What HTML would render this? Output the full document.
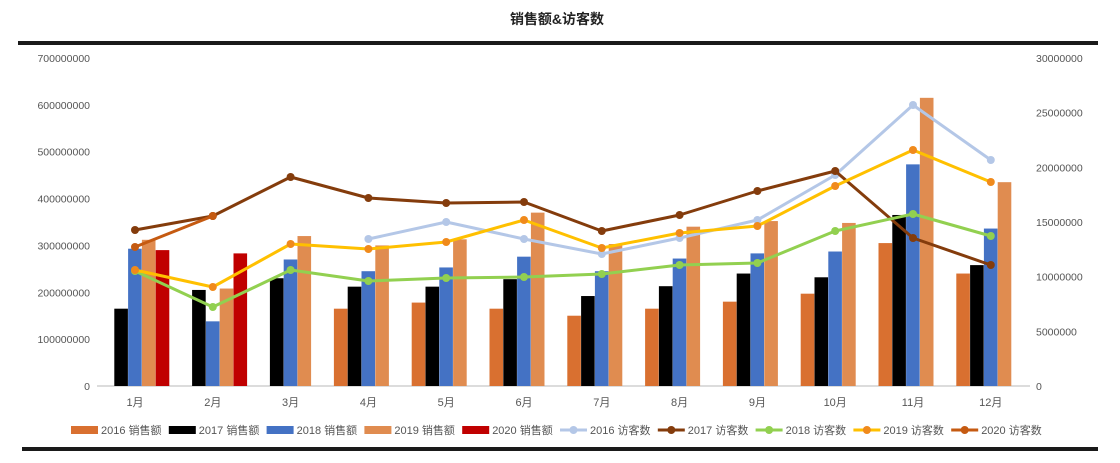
<!DOCTYPE html>
<html><head><meta charset="utf-8">
<style>
html,body{margin:0;padding:0;background:#fff;}
svg{display:block;font-family:"Liberation Sans","Noto Sans CJK SC",sans-serif;}
</style></head>
<body>
<svg id="c" width="1120" height="463" viewBox="0 0 1120 463" xmlns="http://www.w3.org/2000/svg">
<rect width="1120" height="463" fill="#fff"/>
<text x="557" y="24" text-anchor="middle" font-size="14" font-weight="bold" fill="#222">销售额&amp;访客数</text>
<rect x="18" y="41" width="1080" height="4" fill="#1a1a1a"/>
<rect x="22" y="447" width="1076" height="4" fill="#1a1a1a"/>
<line x1="97" y1="386" x2="1030" y2="386" stroke="#d0d0d0" stroke-width="1.5"/>
<g id="g"></g>
</svg>
<script>
(function(){
var NS="http://www.w3.org/2000/svg",g=document.getElementById("g");
function el(t,a,txt){var e=document.createElementNS(NS,t);for(var k in a)e.setAttribute(k,a[k]);if(txt!=null)e.textContent=txt;g.appendChild(e);return e;}
var B=386,T=58;
for(var i=0;i<=7;i++){var y=B-i*(B-T)/7;el("text",{x:90,y:y+4,"text-anchor":"end","font-size":"10.5",fill:"#555"},i==0?"0":(i*100000000)+"");}
for(var i=0;i<=6;i++){var y=B-i*(B-T)/6;el("text",{x:1036,y:y+4,"font-size":"10.5",fill:"#555"},i==0?"0":(i*5000000)+"");}
var sx=function(i){return 135+77.8*i;};
var bars=[
 ["#D97030",[null,null,null,165,178,165,150,165,180,197,305,240]],
 ["#000000",[165,205,230,212,212,228,192,213,240,232,365,258]],
 ["#4472C4",[293,138,270,245,253,276,245,272,283,287,473,336]],
 ["#E08C50",[312,208,320,300,313,370,303,340,352,348,615,435]],
 ["#C00000",[290,283,null,null,null,null,null,null,null,null,null,null]]];
var ls=(B-T)/700;
bars.forEach(function(b,k){b[1].forEach(function(v,i){if(v==null)return;var h=v*ls;el("rect",{x:sx(i)-34.5+13.8*k,y:B-h,width:13.6,height:h,fill:b[0]});});});
for(var i=0;i<12;i++)el("text",{x:sx(i),y:406,"text-anchor":"middle","font-size":"11",fill:"#555"},(i+1)+"月");
var lines=[
 ["#B4C7E7","#B4C7E7",[null,null,null,239,222,239,254,238,220,175,105,160]],
 ["#843C0C","#843C0C",[230,216,177,198,203,202,231,215,191,171,238,265]],
 ["#92D050","#92D050",[271,307,270,281,278,277,274,265,263,231,214,236]],
 ["#FFC000","#F08A1C",[270,287,244,249,242,220,248,233,226,186,150,182]],
 ["#C55A11","#C55A11",[247,216,null,null,null,null,null,null,null,null,null,null]]];
lines.forEach(function(l){var pts=[];l[2].forEach(function(v,i){if(v!=null)pts.push(sx(i)+","+v);});
 el("polyline",{points:pts.join(" "),fill:"none",stroke:l[0],"stroke-width":3,"stroke-linejoin":"round"});
 l[2].forEach(function(v,i){if(v!=null)el("circle",{cx:sx(i),cy:v,r:4,fill:l[1]});});});
var names=["2016 销售额","2017 销售额","2018 销售额","2019 销售额","2020 销售额","2016 访客数","2017 访客数","2018 访客数","2019 访客数","2020 访客数"];
for(var j=0;j<10;j++){var x=71+97.8*j;
 if(j<5)el("rect",{x:x,y:426,width:27,height:8,fill:bars[j][0]});
 else{var l=lines[j-5];el("line",{x1:x,y1:430,x2:x+27,y2:430,stroke:l[0],"stroke-width":3});el("circle",{cx:x+13.5,cy:430,r:4,fill:l[1]});}
 el("text",{x:x+30,y:434,"font-size":"11",fill:"#555"},names[j]);}
})();
</script>
</body></html>
